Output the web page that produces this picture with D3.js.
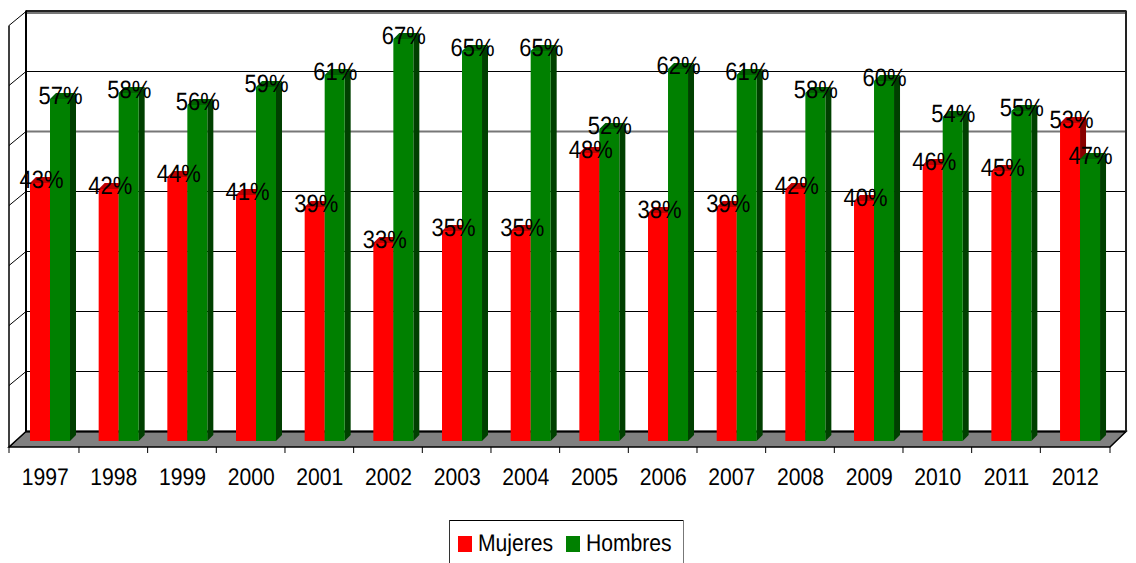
<!DOCTYPE html>
<html><head><meta charset="utf-8">
<script src="https://cdn.jsdelivr.net/npm/d3@7"></script>
<style>html,body{margin:0;padding:0;background:#fff}svg{display:block}text{font-family:"Liberation Sans",Arial,sans-serif;fill:#000;text-rendering:geometricPrecision}</style>
</head><body><svg id="c" width="1136" height="563"></svg>
<script>
const years=["1997","1998","1999","2000","2001","2002","2003","2004","2005","2006","2007","2008","2009","2010","2011","2012"];
const mujeres=[43,42,44,41,39,33,35,35,48,38,39,42,40,46,45,53];
const hombres=[57,58,56,59,61,67,65,65,52,62,61,58,60,54,55,47];
const gridTicks=[0,10,20,30,40,50,60,70];
const seriesInfo=[
 {name:"Mujeres",values:mujeres,face:"#ff0000",top:"#c00000",side:"#880000"},
 {name:"Hombres",values:hombres,face:"#008000",top:"#006000",side:"#004000"}];

const svg=d3.select("#c");
const L=9,R=1110,Y0=441,dxW=17;
const x=d3.scaleBand().domain(years).range([10.3,1109]);
const y=d3.scaleLinear().domain([0,70]).range([Y0,Y0-420]);
const sub=d3.scaleBand().domain([0,1]).range([19.7,59.7]);
const backY=v=>y(v)-9.5;
const floorFront=447,wallL=L+dxW,wallR=R+dxW-1;
const sx=0.88;
const labelShift=[1.5,0.5];
const squeezed=(sel,px,py)=>sel.attr("transform",`translate(${px},${py}) scale(${sx},1)`);

svg.append("polygon").attr("fill","#808080").attr("stroke","#000").attr("stroke-width",1.5)
 .attr("points",[[wallL,backY(0)],[wallR,backY(0)],[R,floorFront],[L,floorFront]].join(" "));
svg.selectAll(".g").data(gridTicks.filter(d=>d<70)).join("line").attr("class","g")
 .attr("x1",wallL).attr("x2",wallR).attr("y1",d=>backY(d)).attr("y2",d=>backY(d))
 .attr("stroke",d=>d===50?"#777":"#000").attr("stroke-width",d=>d===50?2:(d===0?2:1.2));
svg.append("line").attr("x1",wallL).attr("x2",wallR).attr("y1",11).attr("y2",11).attr("stroke","#222").attr("stroke-width",2);
svg.append("line").attr("x1",wallL).attr("x2",wallR).attr("y1",13).attr("y2",13).attr("stroke","#777").attr("stroke-width",2);
svg.selectAll(".s").data(gridTicks).join("line").attr("class","s")
 .attr("x1",wallL).attr("x2",L).attr("y1",d=>backY(d)).attr("y2",d=>backY(d)+(d===0?16:14))
 .attr("stroke","#000").attr("stroke-width",1);
svg.append("line").attr("x1",L).attr("x2",L).attr("y1",backY(70)+14).attr("y2",floorFront).attr("stroke","#000").attr("stroke-width",1.5);
svg.append("line").attr("x1",wallL).attr("x2",wallL).attr("y1",backY(70)-1).attr("y2",backY(0)).attr("stroke","#000").attr("stroke-width",2);
svg.append("line").attr("x1",wallR).attr("x2",wallR).attr("y1",backY(70)-1).attr("y2",backY(0)).attr("stroke","#222").attr("stroke-width",2);

const dx=6,dy=6;
years.forEach((yr,i)=>{
 const g=svg.append("g").attr("transform",`translate(${x(yr)},0)`);
 seriesInfo.forEach((s,j)=>{
  const v=s.values[i],x0=sub(j),w=sub.bandwidth(),t=y(v);
  g.append("polygon").attr("fill",s.side).attr("points",[[x0+w,t],[x0+w+dx,t-dy],[x0+w+dx,Y0-dy],[x0+w,Y0]].join(" "));
  g.append("polygon").attr("fill",s.top).attr("points",[[x0,t],[x0+dx,t-dy],[x0+w+dx,t-dy],[x0+w,t]].join(" "));
  g.append("rect").attr("fill",s.face).attr("x",x0).attr("y",t).attr("width",w).attr("height",Y0-t);
 });
});
years.forEach((yr,i)=>{
 seriesInfo.forEach((s,j)=>{
  svg.append("text").attr("text-anchor","middle").attr("font-size",25)
   .call(squeezed,x(yr)+sub(j)+sub.bandwidth()/2+labelShift[j],y(s.values[i])+5).text(s.values[i]+"%");
 });
});
const ax=svg.append("g").attr("transform",`translate(0.5,${floorFront})`)
 .call(d3.axisBottom(x).tickSize(0));
ax.select(".domain").remove();
ax.selectAll("text").attr("y",38).attr("dy",0).attr("font-size",24).attr("fill","#000")
 .attr("font-family",'"Liberation Sans",Arial,sans-serif').attr("transform",`scale(${sx},1)`);
const tickXs=[L].concat(years.slice(1).map(d=>x(d)),[R]);
svg.selectAll(".t").data(tickXs).join("line").attr("class","t")
 .attr("x1",d=>d).attr("x2",d=>d).attr("y1",floorFront).attr("y2",floorFront+6).attr("stroke","#000");

const lg=svg.append("g");
lg.append("line").attr("x1",449.5).attr("x2",683.5).attr("y1",520.5).attr("y2",520.5).attr("stroke","#000");
lg.append("line").attr("x1",449.5).attr("x2",449.5).attr("y1",520).attr("y2",563).attr("stroke","#333");
lg.append("line").attr("x1",683.5).attr("x2",683.5).attr("y1",520).attr("y2",563).attr("stroke","#777");
const lgX=[458,566];
seriesInfo.forEach((s,j)=>{
 lg.append("rect").attr("x",lgX[j]).attr("y",536).attr("width",14).attr("height",16).attr("fill",s.face);
 lg.append("text").call(squeezed,lgX[j]+20,551).attr("font-size",24).text(s.name);
});
</script></body></html>
